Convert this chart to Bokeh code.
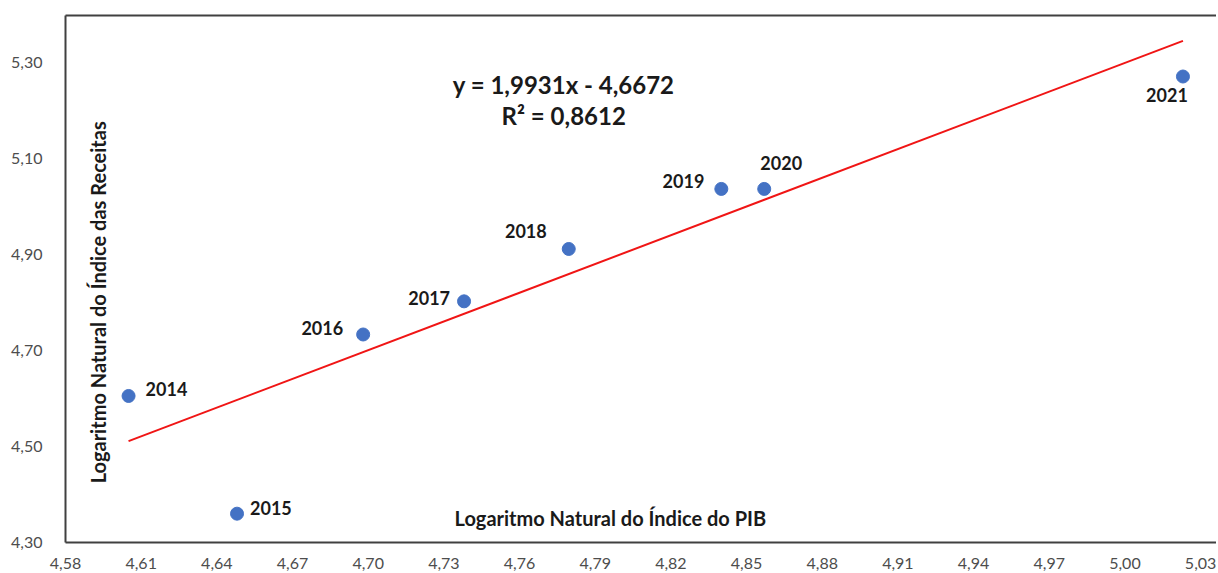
from bokeh.plotting import figure
from bokeh.models import ColumnDataSource, FixedTicker, Label, LinearAxis, Range1d
from bokeh.embed import file_html
from bokeh.resources import INLINE

# ---- data ----
years = ["2014", "2015", "2016", "2017", "2018", "2019", "2020", "2021"]
ln_pib = [4.605, 4.648, 4.698, 4.738, 4.7795, 4.840, 4.857, 5.023]
ln_receitas = [4.605, 4.360, 4.733, 4.802, 4.911, 5.036, 5.036, 5.270]

slope = 1.9931
intercept = -4.6672
r2_text = "R² = 0,8612"
eq_text = "y = 1,9931x - 4,6672"

x_ticks = [4.58, 4.61, 4.64, 4.67, 4.70, 4.73, 4.76, 4.79, 4.82, 4.85, 4.88, 4.91, 4.94, 4.97, 5.00, 5.03]
x_tick_labels = ["4,58", "4,61", "4,64", "4,67", "4,70", "4,73", "4,76", "4,79", "4,82", "4,85",
                 "4,88", "4,91", "4,94", "4,97", "5,00", "5,03"]
y_ticks = [4.30, 4.50, 4.70, 4.90, 5.10, 5.30]
y_tick_labels = ["4,30", "4,50", "4,70", "4,90", "5,10", "5,30"]

x_title = "Logaritmo Natural do Índice do PIB"
y_title = "Logaritmo Natural do Índice das Receitas"

# label placement (styles)
lbl_dx = [17, 13, -20, -14, -22, -17, 17, -16]
lbl_dy = [-7, -6, -6, -3, -18, -8, -26, 18]
lbl_align = ["left", "left", "right", "right", "right", "right", "center", "center"]

FONT = "Lato"
AXIS_COLOR = "#404040"
TEXT_COLOR = "#1a1a1a"

p = figure(width=1216, height=571, output_backend="svg", toolbar_location=None,
           x_range=Range1d(4.58, 5.0363), y_range=Range1d(4.30, 5.397),
           min_border_left=65, min_border_top=15, min_border_bottom=29, min_border_right=0,
           x_axis_location=None, y_axis_location=None)
p.grid.visible = False
p.outline_line_color = None
p.background_fill_color = "white"
p.border_fill_color = "white"

xaxis = LinearAxis(ticker=FixedTicker(ticks=x_ticks),
                   major_label_overrides={t: l for t, l in zip(x_ticks, x_tick_labels)})
yaxis = LinearAxis(ticker=FixedTicker(ticks=y_ticks),
                   major_label_overrides={t: l for t, l in zip(y_ticks, y_tick_labels)})
topaxis = LinearAxis(ticker=FixedTicker(ticks=[]), major_label_text_font_size="0px")
for ax in (xaxis, yaxis, topaxis):
    ax.axis_line_color = AXIS_COLOR
    ax.axis_line_width = 2
    ax.major_tick_line_color = None
    ax.minor_tick_line_color = None
    ax.major_label_text_font = FONT
    ax.major_label_text_font_size = "16px"
    ax.major_label_text_color = "#4d4d4d"
xaxis.major_label_standoff = 9
yaxis.major_label_standoff = 17
p.add_layout(xaxis, "below")
p.add_layout(yaxis, "left")
p.add_layout(topaxis, "above")

# trendline from regression coefficients
x0, x1 = min(ln_pib), max(ln_pib)
p.line([x0, x1], [slope * x0 + intercept, slope * x1 + intercept], line_color="#F01515", line_width=2)

src = ColumnDataSource(dict(x=ln_pib, y=ln_receitas, year=years))
p.scatter("x", "y", source=src, size=13, fill_color="#4472C4", line_color="#4472C4")

for x, y, t, dx, dy, al in zip(ln_pib, ln_receitas, years, lbl_dx, lbl_dy, lbl_align):
    p.add_layout(Label(x=x, y=y, text=t, x_offset=dx, y_offset=-dy, text_align=al,
                       text_baseline="middle", text_font=FONT, text_font_style="bold",
                       text_font_size="18px", text_color=TEXT_COLOR))

p.add_layout(Label(x=4.7775, y=5.253, text=eq_text, text_align="center", text_baseline="middle",
                   text_font=FONT, text_font_style="bold", text_font_size="24px", text_color=TEXT_COLOR))
p.add_layout(Label(x=4.7775, y=5.189, text=r2_text, text_align="center", text_baseline="middle",
                   text_font=FONT, text_font_style="bold", text_font_size="24px", text_color=TEXT_COLOR))

p.add_layout(Label(x=4.796, y=4.350, text=x_title, text_align="center", text_baseline="middle",
                   text_font=FONT, text_font_style="bold", text_font_size="20px", text_color=TEXT_COLOR))
p.add_layout(Label(x=4.5927, y=4.80, text=y_title, angle=1.5708, text_align="center",
                   text_baseline="middle", text_font=FONT, text_font_style="bold",
                   text_font_size="20px", text_color=TEXT_COLOR))

open("out.html", "w").write(file_html(p, INLINE))
